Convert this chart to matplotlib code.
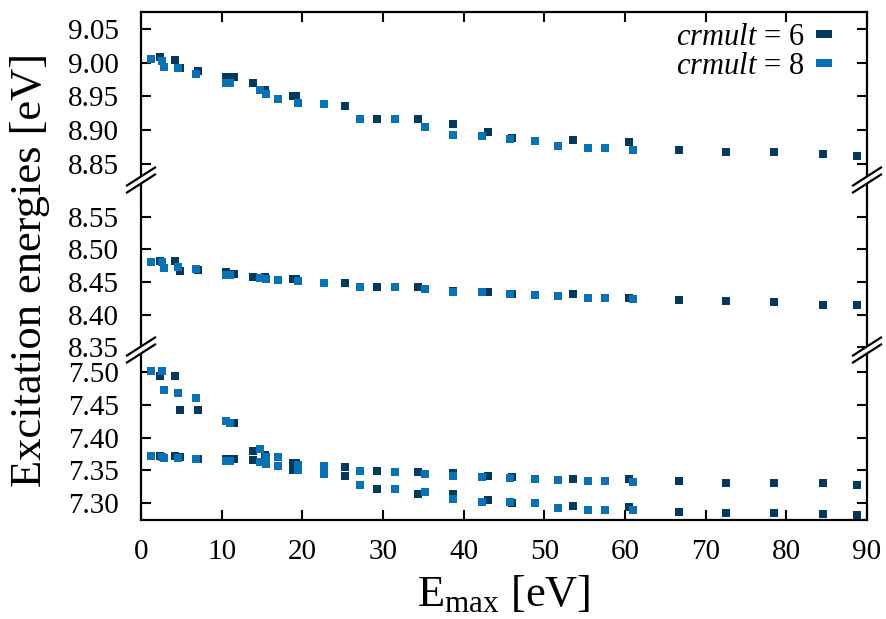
import numpy as np
import matplotlib
matplotlib.use("Agg")
import matplotlib.pyplot as plt
from matplotlib.lines import Line2D
from matplotlib.ticker import FormatStrFormatter

plt.rcParams['font.family'] = ['Liberation Serif', 'DejaVu Serif']
plt.rcParams['mathtext.fontset'] = 'custom'
plt.rcParams['mathtext.rm'] = 'Liberation Serif'
plt.rcParams['mathtext.it'] = 'Liberation Serif:italic'

# crmult = 6
x6 = [2.3, 4.2, 4.8, 7.1, 10.5, 11.5, 13.9, 15.4, 18.8, 19.2, 25.3, 29.3, 34.3,
      38.7, 43.0, 46.0, 53.6, 60.5, 66.7, 72.5, 78.5, 84.5, 88.8]
top6 = [9.008, 9.004, 8.992, 8.988, 8.978, 8.978, 8.970, 8.960, 8.950, 8.950, 8.935, 8.917, 8.917,
        8.909, 8.897, 8.888, 8.886, 8.882, 8.870, 8.868, 8.867, 8.865, 8.861]
mid6 = [8.482, 8.482, 8.467, 8.468, 8.466, 8.463, 8.457, 8.457, 8.454, 8.454, 8.449, 8.442, 8.442,
        8.437, 8.434, 8.431, 8.431, 8.426, 8.422, 8.421, 8.420, 8.415, 8.415]
lowa6 = [7.494, 7.494, 7.442, 7.442, 7.426, 7.423, 7.379, 7.374, 7.361, 7.361, 7.355, 7.349, 7.348,
         7.346, 7.342, 7.340, 7.337, 7.336, 7.333, 7.331, 7.330, 7.330, 7.328]
lowb6 = [7.372, 7.372, 7.370, 7.368, 7.368, 7.368, 7.366, 7.363, 7.351, 7.351, 7.341, 7.322, 7.314,
         7.314, 7.304, 7.300, 7.295, 7.294, 7.286, 7.284, 7.284, 7.283, 7.281]

# crmult = 8
x8 = [1.2, 2.6, 2.8, 4.6, 6.8, 10.5, 11.0, 14.7, 15.5, 17.0, 19.5, 22.7, 27.1, 31.5,
      35.2, 38.7, 42.3, 45.8, 48.8, 51.7, 55.4, 57.5, 61.0]
top8 = [9.005, 9.003, 8.993, 8.992, 8.983, 8.970, 8.970, 8.959, 8.953, 8.946, 8.940, 8.939, 8.917, 8.916,
        8.904, 8.893, 8.891, 8.887, 8.884, 8.877, 8.873, 8.873, 8.870]
mid8 = [8.480, 8.480, 8.472, 8.473, 8.470, 8.461, 8.461, 8.456, 8.454, 8.453, 8.452, 8.448, 8.442, 8.442,
        8.439, 8.434, 8.434, 8.432, 8.430, 8.428, 8.426, 8.425, 8.424]
lowa8 = [7.502, 7.502, 7.473, 7.468, 7.461, 7.426, 7.422, 7.383, 7.371, 7.371, 7.358, 7.357, 7.349, 7.348,
         7.344, 7.341, 7.340, 7.339, 7.337, 7.335, 7.334, 7.334, 7.332]
lowb8 = [7.372, 7.371, 7.369, 7.369, 7.368, 7.364, 7.364, 7.362, 7.360, 7.357, 7.350, 7.345, 7.328, 7.321,
         7.317, 7.306, 7.302, 7.302, 7.300, 7.293, 7.290, 7.290, 7.290]

labels = [r'$crmult$ = 6', r'$crmult$ = 8']
c6 = '#04395e'
c8 = '#0872b5'

W, H = 887, 619
fig = plt.figure(figsize=(W / 100, H / 100), dpi=100)

left, right = 141, 867
panels = [  # (top px, bottom px, ylim, ticks)
    (12, 180, (8.826, 9.075), np.arange(8.85, 9.06, 0.05)),
    (180, 350, (8.346, 8.606), np.arange(8.35, 8.56, 0.05)),
    (350, 520, (7.274, 7.534), np.arange(7.30, 7.51, 0.05)),
]
series = [
    [(x6, top6), (x8, top8)],
    [(x6, mid6), (x8, mid8)],
    [(x6, lowa6), (x6, lowb6), (x8, lowa8), (x8, lowb8)],
]

axes = []
for i, (pt, pb, yl, yt) in enumerate(panels):
    ax = fig.add_axes([left / W, 1 - pb / H, (right - left) / W, (pb - pt) / H])
    for xs, ys in series[i]:
        col = c6 if xs is x6 else c8
        ax.scatter(xs, ys, marker='s', s=40, color=col, linewidths=0, zorder=3 if xs is x8 else 2)
    ax.set_xlim(0, 90)
    ax.set_ylim(*yl)
    ax.set_yticks(yt)
    ax.yaxis.set_major_formatter(FormatStrFormatter('%.2f'))
    ax.set_xticks(np.arange(0, 91, 10))
    ax.tick_params(direction='in', length=7, width=1.5, labelsize=21,
                   left=True, right=True, top=(i == 0), bottom=(i == 2),
                   labelbottom=(i == 2))
    ax.tick_params(axis='y', pad=16)
    ax.tick_params(axis='x', pad=14)
    for s in ax.spines.values():
        s.set_linewidth(1.6)
    if i != 0:
        ax.spines['top'].set_visible(False)
    if i != 2:
        ax.spines['bottom'].set_visible(False)
    axes.append(ax)

# break marks on the y axis
for cy in (180, 350):
    for cx in (left, right):
        dx, dy, g = 14, 9, 3.5
        xs = np.array([cx - dx, cx + dx]) / W
        up = 1 - (np.array([cy + dy, cy - dy]) - g) / H
        lo = 1 - (np.array([cy + dy, cy - dy]) + g) / H
        fig.patches.append(plt.Polygon([[xs[0], up[0]], [xs[1], up[1]], [xs[1], lo[1]], [xs[0], lo[0]]],
                                       closed=True, transform=fig.transFigure, color='white', zorder=10))
        fig.lines.append(Line2D(xs, up, transform=fig.transFigure, color='black', lw=1.6, zorder=11))
        fig.lines.append(Line2D(xs, lo, transform=fig.transFigure, color='black', lw=1.6, zorder=11))

rect = [(-1, -0.5), (1, -0.5), (1, 0.5), (-1, 0.5)]
handles = [Line2D([], [], ls='none', marker=rect, markersize=11, color=c6, markeredgewidth=0),
           Line2D([], [], ls='none', marker=rect, markersize=11, color=c8, markeredgewidth=0)]
fig.legend(handles, labels, loc='upper right', bbox_to_anchor=(836 / W, 1 - 23 / H),
           frameon=False, markerfirst=False, fontsize=22, handlelength=0.8,
           handletextpad=0.25, labelspacing=0.0, borderpad=0, borderaxespad=0)

fig.text(30 / W, 1 - 270 / H, 'Excitation energies [eV]', rotation=90,
         ha='center', va='center', fontsize=32)
fig.text(504 / W, 1 - 595 / H, r'E$_{\rm max}$ [eV]', ha='center', va='center', fontsize=32)

fig.savefig('out.png', dpi=100)
